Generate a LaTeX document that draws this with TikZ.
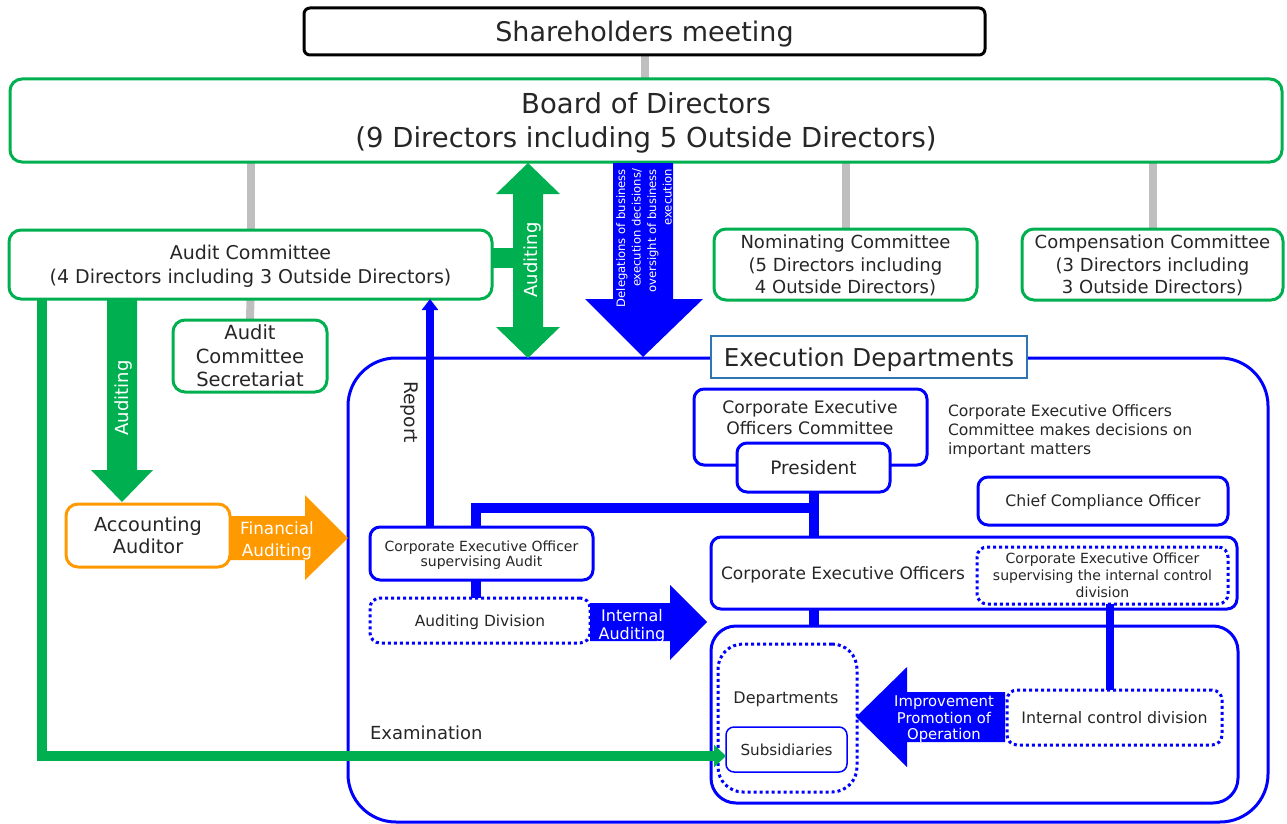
\documentclass[tikz,border=0pt]{standalone}
\usepackage{fontspec}
\setmainfont{DejaVu Sans}
\usetikzlibrary{arrows.meta,backgrounds}
\definecolor{grn}{HTML}{00B050}
\definecolor{blu}{HTML}{0000FF}
\definecolor{org}{HTML}{FF9900}
\definecolor{gry}{HTML}{BFBFBF}
\definecolor{ttl}{HTML}{2E75B6}
\definecolor{txt}{HTML}{262626}
\newcommand{\myfs}[2]{\fontsize{#1pt}{#2pt}\selectfont}
\begin{document}
\begin{tikzpicture}[x=1pt,y=-1pt,
 every node/.style={text=txt, inner sep=0pt, outer sep=0pt, align=center, text depth=0pt},
 gbox/.style={draw=grn, line width=3pt, rounded corners=12pt, fill=white},
 bbox/.style={draw=blu, line width=3pt, rounded corners=10pt, fill=white},
 dbox/.style={draw=blu, line width=3pt, rounded corners=10pt, fill=white, dash pattern=on 3pt off 3pt},
 grayline/.style={draw=gry, line width=8pt},
 bline/.style={draw=blu, line width=10pt},
 wtext/.style={text=white},
]
\useasboundingbox (0,0) rectangle (1287,824);

% ---------- top ----------
\node[draw=black, line width=3pt, rounded corners=6pt, fill=white, minimum width=681pt, minimum height=47pt, font=\myfs{27}{32}] (share) at (644.5,31.5) {Shareholders meeting};
\node[gbox, minimum width=1272pt, minimum height=83pt, font=\myfs{27.5}{34}] (board) at (646,120.5) {Board of Directors\\(9 Directors including 5 Outside Directors)};

\node[gbox, minimum width=483pt, minimum height=69pt, font=\myfs{19}{24}] (audit) at (250.5,264.5) {Audit Committee\\(4 Directors including 3 Outside Directors)};
\node[gbox, minimum width=263pt, minimum height=71pt, font=\myfs{18}{22.5}] (nom) at (845.5,264.5) {Nominating Committee\\(5 Directors including\\4 Outside Directors)};
\node[gbox, minimum width=261pt, minimum height=71pt, font=\myfs{18}{22.5}] (comp) at (1152.5,264.5) {Compensation Committee\\(3 Directors including\\3 Outside Directors)};
\node[gbox, minimum width=154pt, minimum height=72pt, font=\myfs{19.5}{23.5}] (sec) at (250,356) {Audit\\Committee\\Secretariat};
\node[draw=org, line width=3pt, rounded corners=12pt, fill=white, minimum width=164pt, minimum height=63pt, font=\myfs{19.3}{22}] (acc) at (148,535.5) {Accounting\\Auditor};

% ---------- execution departments ----------
\node[draw=blu, line width=3pt, rounded corners=48pt, minimum width=920pt, minimum height=464pt] (exec) at (808,590) {};
\node[draw=ttl, line width=1.2pt, fill=white, minimum width=316pt, minimum height=42pt, font=\myfs{24.6}{28}] (title) at (869,357) {Execution Departments};

\node[bbox, minimum width=223pt, minimum height=53pt, font=\myfs{14}{15.5}] (ceoaudit) at (481.5,553.5) {Corporate Executive Officer\\supervising Audit};
\node[dbox, minimum width=220pt, minimum height=45pt, font=\myfs{15.4}{18}] (auddiv) at (480,620.5) {Auditing Division};

\node[bbox, minimum width=233pt, minimum height=76pt] (ceocom) at (810.5,427) {};
\node[font=\myfs{17.2}{21}] (ceocomt) at (810,417.5) {Corporate Executive\\Officers Committee};
\node[bbox, minimum width=153pt, minimum height=49pt, font=\myfs{18.5}{22}] (pres) at (813.5,467.5) {President};
\node[anchor=west, align=left, font=\myfs{15.6}{19}] (note) at (948,430) {Corporate Executive Officers\\Committee makes decisions on\\important matters};
\node[bbox, minimum width=250pt, minimum height=48pt, font=\myfs{15.7}{19}] (cco) at (1103,501) {Chief Compliance Officer};

\node[bbox, minimum width=526pt, minimum height=72pt] (ceo) at (974,573) {};
\node[anchor=west, font=\myfs{17}{20}] (ceot) at (721,573) {Corporate Executive Officers};
\node[dbox, minimum width=251pt, minimum height=57pt, font=\myfs{14}{17}] (innerdot) at (1102.5,575.5) {Corporate Executive Officer\\supervising the internal control\\division};

\node[bbox, rounded corners=25pt, minimum width=527pt, minimum height=177pt] (lower) at (974.5,714.5) {};
\node[dbox, rounded corners=25pt, minimum width=139pt, minimum height=148pt] (dept) at (787.5,718) {};
\node[font=\myfs{16}{19}] (deptt) at (786,698) {Departments};
\node[draw=blu, line width=1.5pt, rounded corners=8pt, fill=white, minimum width=121pt, minimum height=45pt, font=\myfs{15.2}{18}] (subs) at (786.5,749.5) {Subsidiaries};
\node[dbox, minimum width=215pt, minimum height=55pt, font=\myfs{15.8}{19}] (icd) at (1114.5,717.5) {Internal control division};

\node[anchor=west, font=\myfs{18}{21}] (exam) at (370,733) {Examination};

% ---------- gray connectors ----------
\begin{pgfonlayer}{background}
\draw[grayline] (share.south) -- (share.south |- board.north);
\draw[grayline] (audit.north) -- (audit.north |- board.south);
\draw[grayline] (nom.north) -- (nom.north |- board.south);
\draw[grayline] (comp.north) -- (comp.north |- board.south);
\draw[grayline] (audit.south) -- (sec.north);
\end{pgfonlayer}

% ---------- green double arrow (Auditing) ----------
\fill[grn] (492,248) rectangle (514,268);
\fill[grn] (528,163) -- (560,194) -- (543,194) -- (543,327) -- (560,327) -- (528,358)
  -- (496,327) -- (513,327) -- (513,194) -- (496,194) -- cycle;
\node[wtext, rotate=90, font=\myfs{18}{21}] (aud1) at (531,260) {Auditing};

% ---------- blue delegation arrow ----------
\fill[blu] (613,163) -- (673,163) -- (673,299) -- (703,299) -- (643,357) -- (585,299) -- (613,299) -- cycle;
\node[wtext, rotate=90, anchor=east, align=right, font=\myfs{11.6}{15.5}] (deleg) at (644,169) {Delegations of business\\execution decisions/\\oversight of business\\execution};

% ---------- green down arrow to accounting auditor ----------
\fill[grn] (107,299) -- (137,299) -- (137,470) -- (153,470) -- (122,502) -- (91,470) -- (107,470) -- cycle;
\node[wtext, rotate=90, font=\myfs{18}{21}] (aud2) at (122,398) {Auditing};

% ---------- orange financial auditing arrow ----------
\fill[org] (229,516) -- (305,516) -- (305,495) -- (348,538) -- (305,580) -- (305,560) -- (229,560) -- cycle;
\node[wtext, font=\myfs{16.8}{22}] (fin) at (277,539) {Financial\\Auditing};

% ---------- blue internal auditing arrow ----------
\fill[blu] (590,603) -- (670,603) -- (670,585) -- (707,622) -- (670,660) -- (670,641) -- (590,641) -- cycle;
\node[wtext, font=\myfs{16}{18}] (intaud) at (632,624) {Internal\\Auditing};

% ---------- blue improvement arrow ----------
\fill[blu] (1005,692) -- (907,692) -- (907,667) -- (856,717) -- (907,767) -- (907,742) -- (1005,742) -- cycle;
\node[wtext, font=\myfs{14.8}{16.5}] (impr) at (944,718) {Improvement\\Promotion of\\Operation};

% ---------- blue connectors ----------
\coordinate (jn) at (476,508);
\coordinate (rx) at (430,0);
\coordinate (icx) at (1110,0);
\coordinate (ex) at (42,0);
\draw[bline] (ceoaudit.north -| jn) -- (jn) -- (jn -| pres.south);
\draw[bline] (pres.south) -- (pres.south |- ceo.north);
\draw[bline] (ceoaudit.south -| jn) -- (auddiv.north -| jn);
\draw[bline] (ceo.south -| pres.south) -- (lower.north -| pres.south);
\draw[draw=blu, line width=8pt] (innerdot.south -| icx) -- (icd.north -| icx);
\draw[draw=blu, line width=8pt, -{Triangle[length=11pt,width=16pt]}] (ceoaudit.north -| rx) -- (audit.south -| rx);
\node[rotate=-90, font=\myfs{18.7}{21}] (rep) at (411,412) {Report};

% ---------- examination line ----------
\draw[draw=grn, line width=10pt, -{Triangle[length=12pt,width=22pt]}] (audit.south -| ex) |- ([yshift=-6.5pt]subs.west);
\end{tikzpicture}
\end{document}
